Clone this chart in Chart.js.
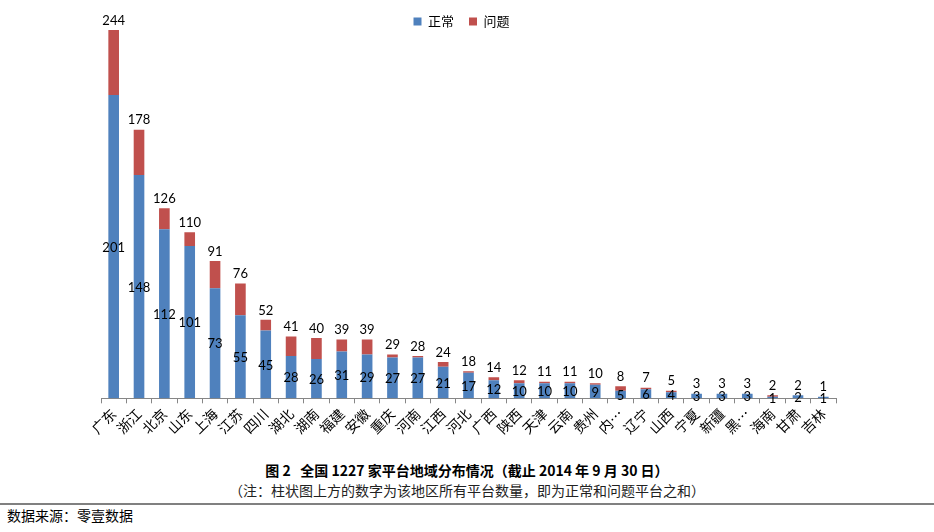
<!DOCTYPE html>
<html>
<head>
<meta charset="utf-8">
<script src="https://cdn.jsdelivr.net/npm/chart.js@4.4.1/dist/chart.umd.min.js"></script>
<style>
  body { margin:0; background:#fff; width:934px; height:532px; position:relative; overflow:hidden; }
  #wrap { position:absolute; left:0; top:0; width:934px; height:455px; }
  .cap { position:absolute; left:0; width:934px; text-align:center; font-family:"Noto Sans CJK SC", sans-serif; color:#000; }
  #title { top:460px; font-size:14px; font-weight:bold; }
  #note { top:480px; font-size:14px; color:#222; }
  #rule { position:absolute; left:0; top:503px; width:934px; height:2px; background:#808080; }
  #src { position:absolute; left:7px; top:505px; font-size:14px; font-family:"Noto Sans CJK SC", sans-serif; color:#000; }
</style>
</head>
<body>
<div id="wrap"><canvas id="chart"></canvas></div>
<div class="cap" id="title">图 2&nbsp;&nbsp;&nbsp;全国 1227 家平台地域分布情况（截止 2014 年 9 月 30 日）</div>
<div class="cap" id="note">（注：柱状图上方的数字为该地区所有平台数量，即为正常和问题平台之和）</div>
<div id="rule"></div>
<div id="src">数据来源：零壹数据</div>
<script>
// 省份
const regions = ["广东","浙江","北京","山东","上海","江苏","四川","湖北","湖南","福建","安徽","重庆","河南","江西","河北","广西","陕西","天津","云南","贵州","内…","辽宁","山西","宁夏","新疆","黑…","海南","甘肃","吉林"];
// 正常平台数
const normal = [201,148,112,101,73,55,45,28,26,31,29,27,27,21,17,12,10,10,10,9,5,6,4,3,3,3,1,2,1];
// 平台总数（柱状图上方数字）
const totals = [244,178,126,110,91,76,52,41,40,39,39,29,28,24,18,14,12,11,11,10,8,7,5,3,3,3,2,2,1];
// 问题平台数 = 总数 - 正常
const problem = totals.map((t, i) => t - normal[i]);

const COL_OK = "#4F81BD";
const COL_BAD = "#C0504D";

// 图例不占图表高度（与 Excel 原图一致，图例压在绘图区上方）
const legendFit = {
  id: "legendFit",
  afterInit(chart){
    const fit = chart.legend.fit;
    chart.legend.fit = function(){
      fit.call(this);
      this.height = 21;
    };
  },
  afterLayout(chart){
    const lg = chart.legend;
    // 放大裁剪区域，避免图例文字被截断；整体略左移
    lg.height = 40;
    lg.bottom = lg.top + 40;
    lg.left -= 7;
    lg.right -= 7;
  }
};

// 数据标签：柱内为正常数，柱顶为总数
const barLabels = {
  id: "barLabels",
  afterDatasetsDraw(chart){
    const ctx = chart.ctx;
    const m0 = chart.getDatasetMeta(0);
    const m1 = chart.getDatasetMeta(1);
    ctx.save();
    ctx.font = "13px Lato, 'Liberation Sans', sans-serif";
    ctx.fillStyle = "#000";
    ctx.textAlign = "center";
    m0.data.forEach((bar, i) => {
      ctx.textBaseline = "middle";
      ctx.fillText(String(normal[i]), bar.x, (bar.y + bar.base) / 2 + 1);
      const top = m1.data[i].y;
      ctx.textBaseline = "bottom";
      ctx.fillText(String(totals[i]), bar.x, top - 3);
    });
    ctx.restore();
  }
};

new Chart(document.getElementById("chart"), {
  type: "bar",
  data: {
    labels: regions,
    datasets: [
      { label: "正常", data: normal, backgroundColor: COL_OK, barPercentage: 0.42, categoryPercentage: 1.0 },
      { label: "问题", data: problem, backgroundColor: COL_BAD, barPercentage: 0.42, categoryPercentage: 1.0 }
    ]
  },
  options: {
    responsive: true,
    maintainAspectRatio: false,
    animation: false,
    layout: { padding: { left: 101, right: 98, top: 0, bottom: 16 } },
    plugins: {
      legend: {
        position: "top",
        labels: {
          boxWidth: 8, boxHeight: 8, padding: 15, color: "#000",
          font: { family: "'Noto Sans CJK SC', sans-serif", size: 13 }
        }
      },
      tooltip: { enabled: false }
    },
    scales: {
      x: {
        stacked: true,
        grid: { offset: true, drawOnChartArea: false, drawTicks: true, tickLength: 5, color: "#868686" },
        border: { color: "#868686" },
        ticks: {
          minRotation: 45, maxRotation: 45, autoSkip: false, padding: 2, color: "#000",
          font: { family: "'Noto Sans CJK SC', sans-serif", size: 14 }
        }
      },
      y: {
        stacked: true, display: false, min: 0, max: 250
      }
    }
  },
  plugins: [legendFit, barLabels]
});
</script>
</body>
</html>
